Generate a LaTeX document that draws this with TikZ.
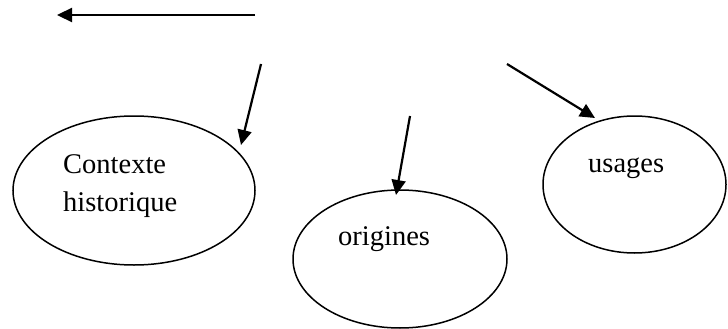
\documentclass[tikz,border=0pt]{standalone}
\usepackage{fontspec}
\setmainfont{Liberation Serif}
\usetikzlibrary{shapes.geometric,arrows.meta}
\begin{document}
\begin{tikzpicture}[x=1pt,y=-1pt,
  oval/.style={draw,ellipse,line width=1.5pt,inner sep=0pt},
  lbl/.style={anchor=base west,inner sep=0pt,font=\fontsize{28.5}{38}\selectfont},
  arr/.style={line width=2.2pt,-{Triangle[length=15pt,width=14pt]}}]
\useasboundingbox (0,0) rectangle (728,329);
\node[oval,minimum width=242pt,minimum height=149pt] (e1) at (134,190.5) {};
\node[oval,minimum width=214pt,minimum height=138pt] (e2) at (400,259) {};
\node[oval,minimum width=183pt,minimum height=137pt] (e3) at (634.5,184.5) {};
\node[lbl] (t1) at (63,173) {Contexte};
\node[lbl] (t2) at (63,211) {historique};
\node[lbl] (t3) at (338,245) {origines};
\node[lbl] (t4) at (588,172) {usages};
\coordinate (a1s) at (255,15);
\coordinate (a1e) at (57,15);
\coordinate (a2s) at (261,64);
\coordinate (a2e) at (241,145);
\coordinate (a3s) at (410,116);
\coordinate (a3e) at (396,195);
\coordinate (a4s) at (507,64);
\coordinate (a4e) at (595,118);
\draw[arr] (a1s) -- (a1e);
\draw[arr] (a2s) -- (a2e);
\draw[arr] (a3s) -- (a3e);
\draw[arr] (a4s) -- (a4e);
\end{tikzpicture}
\end{document}
